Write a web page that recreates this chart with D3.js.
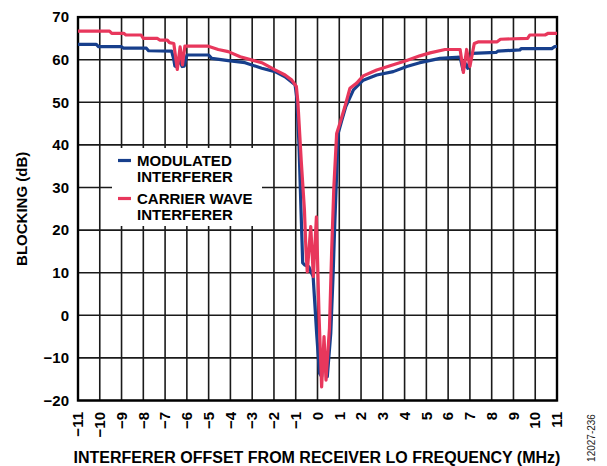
<!DOCTYPE html>
<html>
<head>
<meta charset="utf-8">
<script src="https://cdn.jsdelivr.net/npm/d3@7"></script>
<style>
  html, body { margin: 0; padding: 0; background: #fff; }
  svg { display: block; }
  text { font-family: "Liberation Sans", Arial, sans-serif; }
</style>
</head>
<body>
<svg id="chart" width="607" height="466"></svg>
<script>
// ---- data ----
const xTicks = [-11,-10,-9,-8,-7,-6,-5,-4,-3,-2,-1,0,1,2,3,4,5,6,7,8,9,10,11];
const yTicks = [-20,-10,0,10,20,30,40,50,60,70];

const seriesNames = ["MODULATED\nINTERFERER", "CARRIER WAVE\nINTERFERER"];
const seriesColors = ["#173f8c", "#e8375c"];

// Modulated interferer (MHz offset, dB)
const modFreq = [-11,-10.16,-10.06,-9.0,-8.9,-7.86,-7.76,-6.7,-6.6,-6.55,-6.45,-6.35,-6.22,-6.12,-6.0,-5.0,-4.86,-4.1,-3.33,-2.56,-1.95,-1.49,-1.03,-0.95,-0.85,-0.76,-0.68,-0.58,-0.4,-0.2,-0.04,0.09,0.19,0.27,0.45,0.61,0.72,0.8,0.95,1.1,1.3,1.65,2.1,2.72,3.48,4.1,4.7,5.63,6.55,6.62,6.68,6.78,6.9,7.1,8.2,8.28,9.3,9.35,10.76,10.9,11];
const modBlock = [63.6,63.6,63.05,63.05,62.7,62.7,62.1,62.0,60.0,58.5,58.3,60.2,58.4,58.5,61.1,61.1,60.3,59.8,59.3,58.0,57.2,56.0,54.1,51.0,40.0,25.0,12.3,11.8,11.4,9.1,-4.2,-13.6,-14.4,-9.7,-14.4,-4.2,10.0,22.4,42.7,45.5,49.0,52.9,55.2,56.4,57.2,58.4,59.3,60.3,60.6,59.0,57.6,59.2,58.0,61.5,61.7,62.0,62.3,62.6,62.6,63.1,63.1];

// Carrier wave interferer
const cwFreq = [-11,-9.55,-9.45,-8.9,-8.8,-8.1,-8.0,-7.35,-7.25,-6.9,-6.8,-6.6,-6.5,-6.44,-6.31,-6.2,-6.09,-5.05,-4.56,-4.1,-3.55,-3.0,-2.56,-1.95,-1.49,-1.18,-0.97,-0.9,-0.75,-0.6,-0.53,-0.47,-0.31,-0.19,-0.05,0.07,0.19,0.3,0.39,0.55,0.65,0.75,0.88,1.03,1.26,1.49,1.8,2.1,2.72,3.48,4.1,4.7,5.17,5.86,6.55,6.62,6.7,6.85,7.0,7.2,7.4,8.25,8.4,9.65,9.75,10.45,10.6,11];
const cwBlock = [66.7,66.7,66.2,66.2,65.8,65.8,65.0,65.0,64.6,64.6,64.0,63.8,60.0,57.7,63.0,58.8,63.2,63.2,62.4,61.9,60.7,59.9,59.3,57.6,56.4,55.2,53.7,50.0,36.5,24.7,15.3,10.2,20.8,9.1,23.1,0.0,-16.8,-5.0,-15.2,-3.0,15.0,30.0,42.7,45.1,49.0,53.3,54.5,56.2,57.6,58.8,59.8,60.9,61.6,62.4,62.4,60.0,57.0,62.4,58.4,63.8,64.2,64.2,64.8,65.0,65.8,65.8,66.2,66.2];

// ---- layout ----
const svg = d3.select("#chart");
const M = { left: 78, right: 557, top: 17.1, bottom: 400.5 };

const x = d3.scaleLinear().domain([-11, 11]).range([M.left, M.right]);
const y = d3.scaleLinear().domain([-20, 70]).range([M.bottom, M.top]);

const fmt = v => (v < 0 ? "\u2212" + Math.abs(v) : String(v));

// gridlines
const grid = svg.append("g");
grid.selectAll("line.v").data(xTicks).join("line")
  .attr("x1", d => x(d)).attr("x2", d => x(d))
  .attr("y1", M.top).attr("y2", M.bottom)
  .attr("stroke", "#1a1a1a").attr("stroke-width", 1.6);
grid.selectAll("line.h").data(yTicks).join("line")
  .attr("x1", M.left).attr("x2", M.right)
  .attr("y1", d => y(d)).attr("y2", d => y(d))
  .attr("stroke", "#1a1a1a").attr("stroke-width", 1.6);

// legend background box (covers gridlines)
svg.append("rect")
  .attr("x", 112).attr("y", 148).attr("width", 150).attr("height", 78)
  .attr("fill", "#fff");

// frame
svg.append("rect")
  .attr("x", M.left).attr("y", M.top)
  .attr("width", M.right - M.left).attr("height", M.bottom - M.top)
  .attr("fill", "none").attr("stroke", "#000").attr("stroke-width", 2.4);

// series
const line = d3.line().x(d => x(d[0])).y(d => y(d[1]));
const modData = d3.zip(modFreq, modBlock);
const cwData = d3.zip(cwFreq, cwBlock);

[modData, cwData].forEach((data, i) => {
  svg.append("path").datum(data)
    .attr("d", line)
    .attr("fill", "none")
    .attr("stroke", seriesColors[i])
    .attr("stroke-width", 3.2)
    .attr("stroke-linejoin", "round")
    .attr("stroke-linecap", "butt");
});

// y tick labels
svg.append("g").selectAll("text").data(yTicks).join("text")
  .attr("x", 69).attr("y", d => y(d)).attr("dy", "0.35em")
  .attr("text-anchor", "end")
  .attr("font-size", 15).attr("font-weight", "bold")
  .text(fmt);

// x tick labels (rotated)
svg.append("g").selectAll("text").data(xTicks).join("text")
  .attr("transform", d => `translate(${x(d)},412) rotate(-90)`)
  .attr("dy", "0.35em")
  .attr("text-anchor", "end")
  .attr("font-size", 15).attr("font-weight", "bold")
  .text(fmt);

// axis titles
svg.append("text")
  .attr("x", 317).attr("y", 463)
  .attr("text-anchor", "middle")
  .attr("font-size", 16).attr("font-weight", "bold")
  .text("INTERFERER OFFSET FROM RECEIVER LO FREQUENCY (MHz)");

svg.append("text")
  .attr("transform", `translate(27,${(M.top + M.bottom) / 2}) rotate(-90)`)
  .attr("text-anchor", "middle")
  .attr("font-size", 15).attr("font-weight", "bold")
  .text("BLOCKING (dB)");

svg.append("text")
  .attr("transform", "translate(595,438) rotate(-90)")
  .attr("text-anchor", "middle")
  .attr("font-size", 10).attr("fill", "#222")
  .text("12027-236");

// legend
const legendY = [160.5, 198.5];
seriesNames.forEach((name, i) => {
  svg.append("line")
    .attr("x1", 118).attr("x2", 131)
    .attr("y1", legendY[i]).attr("y2", legendY[i])
    .attr("stroke", seriesColors[i]).attr("stroke-width", 3.2);
  name.split("\n").forEach((t, j) => {
    svg.append("text")
      .attr("x", 137).attr("y", legendY[i] + 5.5 + j * 16)
      .attr("font-size", 15).attr("font-weight", "bold")
      .text(t);
  });
});
</script>
</body>
</html>
